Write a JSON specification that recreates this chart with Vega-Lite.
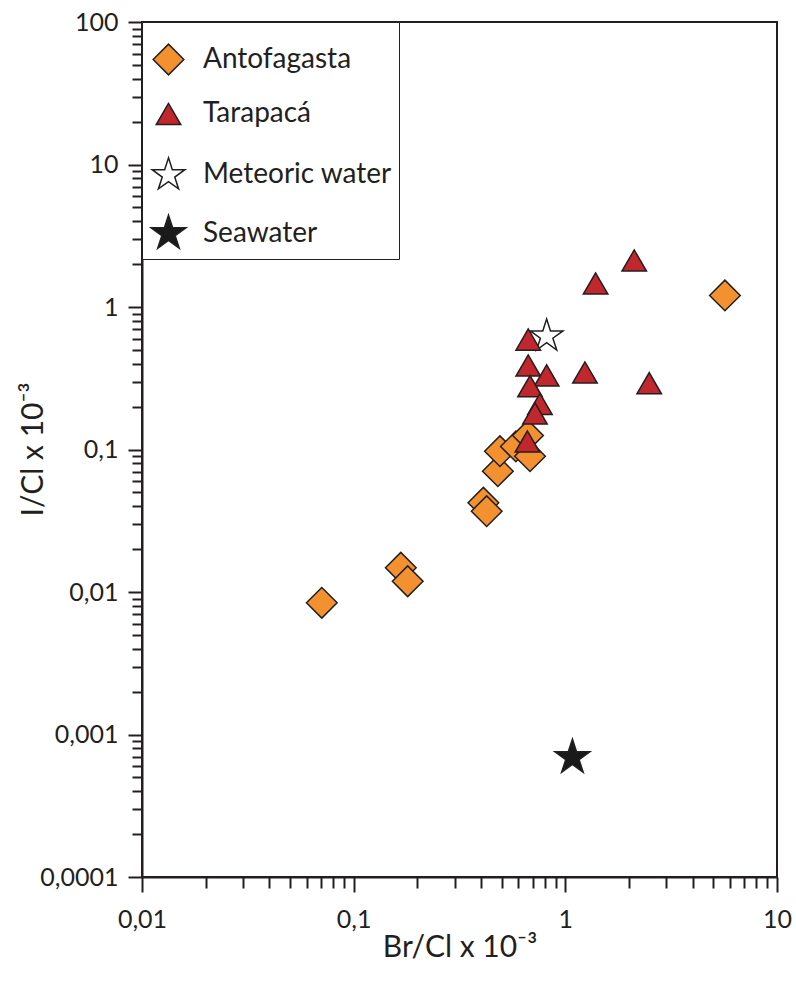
{
  "$schema": "https://vega.github.io/schema/vega-lite/v6.json",
  "width": 635,
  "height": 855,
  "autosize": "none",
  "padding": {"left": 142, "top": 22, "right": 19, "bottom": 105},
  "background": "white",
  "config": {
    "font": "Lato",
    "view": {"stroke": "#231F20", "strokeWidth": 2},
    "legend": {
      "orient": "none",
      "legendX": 0,
      "legendY": 0,
      "padding": 7,
      "gridAlign": "all",
      "strokeColor": "#231F20",
      "fillColor": "white",
      "rowPadding": 16,
      "titleFontSize": 8,
      "titlePadding": 6,
      "labelFontSize": 28,
      "labelColor": "#231F20",
      "labelOffset": 15,
      "labelLimit": 300,
      "symbolStrokeColor": "#231F20",
      "symbolStrokeWidth": 1.5
    }
  },
  "data": {
    "values": [
      {"group": "Antofagasta", "br": 0.0707, "i": 0.0084},
      {"group": "Antofagasta", "br": 0.167, "i": 0.0148},
      {"group": "Antofagasta", "br": 0.18, "i": 0.0119},
      {"group": "Antofagasta", "br": 0.41, "i": 0.0423},
      {"group": "Antofagasta", "br": 0.425, "i": 0.0369},
      {"group": "Antofagasta", "br": 0.48, "i": 0.0704},
      {"group": "Antofagasta", "br": 0.491, "i": 0.0973},
      {"group": "Antofagasta", "br": 0.584, "i": 0.105},
      {"group": "Antofagasta", "br": 0.666, "i": 0.1254},
      {"group": "Antofagasta", "br": 0.681, "i": 0.0897},
      {"group": "Antofagasta", "br": 5.675, "i": 1.205},
      {"group": "Meteoric water", "br": 0.816, "i": 0.624},
      {"group": "Tarapacá", "br": 2.116, "i": 2.12},
      {"group": "Tarapacá", "br": 1.39, "i": 1.462},
      {"group": "Tarapacá", "br": 0.668, "i": 0.591},
      {"group": "Tarapacá", "br": 0.668, "i": 0.3886},
      {"group": "Tarapacá", "br": 0.816, "i": 0.3307},
      {"group": "Tarapacá", "br": 1.238, "i": 0.347},
      {"group": "Tarapacá", "br": 2.49, "i": 0.292},
      {"group": "Tarapacá", "br": 0.681, "i": 0.278},
      {"group": "Tarapacá", "br": 0.7586, "i": 0.2086},
      {"group": "Tarapacá", "br": 0.7186, "i": 0.179},
      {"group": "Tarapacá", "br": 0.662, "i": 0.1138},
      {"group": "Seawater", "br": 1.08, "i": 0.00069}
    ]
  },
  "mark": {"type": "point", "filled": true, "opacity": 1, "stroke": "#231F20", "strokeWidth": 1.5},
  "encoding": {
    "x": {
      "field": "br",
      "type": "quantitative",
      "scale": {"type": "log", "domain": [0.01, 10], "nice": false},
      "axis": {
        "title": "Br/Cl x 10⁻³",
        "titleFontSize": 30,
        "titleFontWeight": "normal",
        "titleColor": "#231F20",
        "titlePadding": 0,
        "grid": false,
        "domainColor": "#231F20",
        "domainWidth": 2,
        "tickColor": "#231F20",
        "tickWidth": 2,
        "tickSize": {"condition": {"test": "abs(log(datum.value)/LN10 - round(log(datum.value)/LN10)) < 1e-6", "value": 15}, "value": 11},
        "labelFontSize": 25,
        "labelColor": "#231F20",
        "labelPadding": 15,
        "labelFlush": false,
        "labelOverlap": false,
        "values": [0.01, 0.02, 0.03, 0.04, 0.05, 0.06, 0.07, 0.08, 0.09, 0.1, 0.2, 0.3, 0.4, 0.5, 0.6, 0.7, 0.8, 0.9, 1, 2, 3, 4, 5, 6, 7, 8, 9, 10],
        "labelExpr": "abs(log(datum.value)/LN10 - round(log(datum.value)/LN10)) < 1e-6 ? (datum.value >= 1 ? format(datum.value, 'd') : replace(format(datum.value, '~f'), '.', ',')) : ''"
      }
    },
    "y": {
      "field": "i",
      "type": "quantitative",
      "scale": {"type": "log", "domain": [0.0001, 100], "nice": false},
      "axis": {
        "title": "I/Cl x 10⁻³",
        "titleFontSize": 30,
        "titleFontWeight": "normal",
        "titleColor": "#231F20",
        "titleX": -100,
        "titleY": 427,
        "titleAlign": "center",
        "titleBaseline": "alphabetic",
        "titleAngle": -90,
        "grid": false,
        "domainColor": "#231F20",
        "domainWidth": 2,
        "tickColor": "#231F20",
        "tickWidth": 2,
        "tickSize": {"condition": {"test": "abs(log(datum.value)/LN10 - round(log(datum.value)/LN10)) < 1e-6", "value": 14}, "value": 10},
        "labelFontSize": 25,
        "labelColor": "#231F20",
        "labelPadding": 10,
        "labelFlush": false,
        "labelOverlap": false,
        "values": [0.0001, 0.0002, 0.0003, 0.0004, 0.0005, 0.0006, 0.0007, 0.0008, 0.0009, 0.001, 0.002, 0.003, 0.004, 0.005, 0.006, 0.007, 0.008, 0.009, 0.01, 0.02, 0.03, 0.04, 0.05, 0.06, 0.07, 0.08, 0.09, 0.1, 0.2, 0.3, 0.4, 0.5, 0.6, 0.7, 0.8, 0.9, 1, 2, 3, 4, 5, 6, 7, 8, 9, 10, 20, 30, 40, 50, 60, 70, 80, 90, 100],
        "labelExpr": "abs(log(datum.value)/LN10 - round(log(datum.value)/LN10)) < 1e-6 ? (datum.value >= 1 ? format(datum.value, 'd') : replace(format(datum.value, '~f'), '.', ',')) : ''"
      }
    },
    "shape": {
      "field": "group",
      "type": "nominal",
      "scale": {
        "domain": ["Antofagasta", "Tarapacá", "Meteoric water", "Seawater"],
        "range": ["diamond", "triangle-up", "M0,-1L0.2245,-0.309L0.9511,-0.309L0.3633,0.118L0.5878,0.809L0,0.382L-0.5878,0.809L-0.3633,0.118L-0.9511,-0.309L-0.2245,-0.309Z", "M0,-1L0.2245,-0.309L0.9511,-0.309L0.3633,0.118L0.5878,0.809L0,0.382L-0.5878,0.809L-0.3633,0.118L-0.9511,-0.309L-0.2245,-0.309Z"]
      },
      "legend": {"title": " "}
    },
    "color": {
      "field": "group",
      "type": "nominal",
      "scale": {
        "domain": ["Antofagasta", "Tarapacá", "Meteoric water", "Seawater"],
        "range": ["#F39130", "#C1272D", "#FFFFFF", "#1A1A1A"]
      },
      "legend": {"title": " "}
    },
    "size": {
      "field": "group",
      "type": "nominal",
      "scale": {
        "type": "ordinal",
        "domain": ["Antofagasta", "Tarapacá", "Meteoric water", "Seawater"],
        "range": [940, 600, 1180, 1350]
      },
      "legend": {"title": " "}
    }
  }
}
